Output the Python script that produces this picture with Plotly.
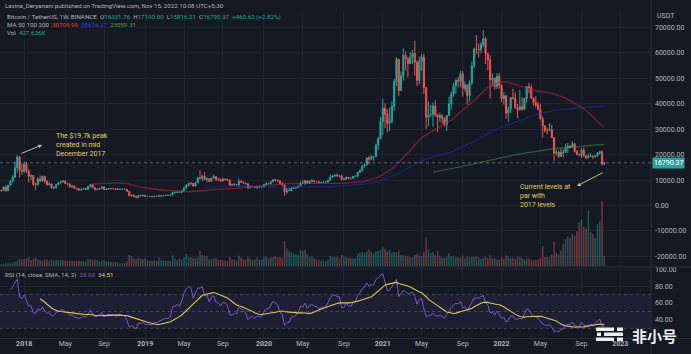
import numpy as np
import pandas as pd
import plotly.graph_objects as go

# ---------------- data (BTC/USDT weekly, Binance) ----------------
first_open = 4261.48
close = [
    # 2017 (from Aug 14)
    4087, 4339, 4580, 4130, 3700, 3600, 4380, 4600, 5700, 6000, 5900, 7300, 5800, 8000, 9700, 11200, 14700, 19100, 13900, 13400,
    # 2018
    16200, 13800, 11500, 11800, 8200, 8100, 10400, 9600, 11500, 9500, 8200, 8500, 6900, 7000, 8300, 8900, 9300, 9650, 8700, 8500,
    7350, 7700, 6750, 6500, 6150, 6400, 6750, 6350, 7400, 8200, 7000, 6300, 6400, 6700, 7300, 6200, 6500, 6700, 6600, 6600,
    6300, 6400, 6400, 6400, 6350, 5600, 3950, 4150, 3600, 3200, 3950, 3850, 4050,
    # 2019
    3500, 3530, 3530, 3410, 3650, 3620, 3740, 3800, 3920, 4000, 3980, 4100, 5050, 5070, 5300, 5150, 5750, 7000, 8100, 8750,
    8700, 7650, 8950, 10850, 10800, 11400, 10200, 10500, 9500, 10800, 11300, 10200, 10100, 9600, 10400, 10300, 10000, 8050, 7950, 8300,
    8200, 9550, 9200, 8800, 8500, 6900, 7400, 7500, 7100, 7500, 7300, 7350,
    # 2020
    8200, 8700, 8600, 9350, 10150, 9900, 9650, 8550, 8050, 5350, 5800, 5900, 6800, 6900, 7100, 7700, 8900, 8700, 9700, 8700,
    9450, 9650, 9350, 9300, 9000, 9050, 9250, 9200, 9950, 11100, 11700, 11900, 11650, 11700, 10250, 10330, 11100, 10750, 10650, 11400,
    11500, 13000, 13800, 15500, 16000, 18700, 18200, 19150, 19200, 23800, 26300, 33000,
    # 2021
    38200, 35800, 32300, 33100, 38900, 48600, 57500, 45200, 51000, 59000, 57600, 55800, 58200, 59800, 56200, 49100, 56600, 58300, 46400, 34700,
    35700, 35800, 39100, 35600, 34700, 35300, 34250, 31800, 35400, 39900, 43800, 47100, 49300, 48800, 51800, 46000, 47300, 43200, 48200, 54900,
    61500, 61300, 61300, 63300, 65500, 59700, 57300, 49400, 50100, 46700, 50800, 47300,
    # 2022
    41900, 43100, 36300, 37900, 42400, 42200, 38400, 37700, 38800, 37800, 42000, 46800, 46400, 42150, 40400, 39450, 37650, 34100, 31300, 29450,
    29450, 29900, 26600, 20550, 21000, 19300, 20850, 20800, 22600, 23300, 22950, 24300, 21150, 20050, 19800, 21800, 19400, 18800, 19300, 19450,
    19200, 19570, 20600, 21150, 16331.76, 16790.37,
]
high = [
    4485, 4453, 4939, 4789, 4400, 4120, 4480, 4620, 5850, 6150, 6180, 7590, 7776, 8100, 9800, 11850, 17200, 19798, 19250, 16500,
    17250, 17150, 14000, 12250, 11800, 9000, 11100, 11800, 11600, 11700, 9900, 9200, 8500, 7500, 8500, 9000, 9759, 9990, 9700, 8880,
    8500, 7800, 7750, 6900, 6800, 6650, 6800, 6800, 7550, 8500, 8200, 7150, 6600, 6800, 7400, 7400, 6600, 6850, 6750, 6700,
    6720, 6800, 6500, 6450, 6600, 6500, 5600, 4400, 4250, 3600, 4200, 4250, 4100,
    4100, 3750, 3650, 3580, 3700, 3720, 4200, 3900, 3950, 4050, 4100, 4150, 5300, 5470, 5350, 5630, 5900, 7300, 8370, 8950,
    9100, 8800, 9300, 11300, 13970, 12200, 13200, 11100, 10700, 11000, 12300, 11450, 10950, 10650, 10900, 10450, 10400, 10050, 8550, 8800,
    8400, 10540, 9950, 9450, 8850, 8500, 7900, 7650, 7650, 7690, 7700, 7500,
    8450, 9190, 8900, 9600, 10200, 10500, 10250, 9700, 9200, 8180, 6900, 6950, 7200, 7460, 7300, 7780, 9480, 10060, 9950, 9850,
    9800, 10400, 9990, 9600, 9760, 9320, 9450, 9300, 10000, 12100, 12000, 12100, 12480, 11800, 12090, 10800, 11180, 11100, 10950, 11480,
    11700, 13350, 14100, 15960, 16500, 18800, 19500, 19900, 19450, 24300, 26900, 34800,
    41950, 40100, 37850, 38550, 40950, 49700, 58350, 57500, 52650, 61780, 60600, 58400, 60200, 61200, 64850, 57000, 58500, 59500, 59600, 46650,
    40900, 39500, 40500, 41300, 36000, 36600, 35950, 34600, 35500, 42600, 44800, 48150, 49400, 50500, 52900, 52900, 48850, 47700, 49250, 56550,
    62000, 67000, 63700, 64300, 69000, 66300, 59800, 59000, 51950, 50200, 51900, 52100,
    47550, 44450, 43500, 38900, 42600, 45850, 44500, 39850, 45400, 42600, 42400, 46900, 48200, 47500, 42400, 42950, 40800, 40050, 35000, 31400,
    30600, 32400, 31700, 26900, 21900, 21550, 22500, 22000, 24300, 24650, 23650, 25200, 24450, 21800, 20500, 22500, 22800, 19950, 20400, 20500,
    19700, 19700, 21000, 21500, 21450, 17190.00,
]
low = [
    3850, 3950, 4250, 4000, 2817, 3500, 3500, 4200, 4580, 5400, 5400, 5900, 5325, 5800, 7900, 9000, 10800, 13000, 10961, 12000,
    12750, 12800, 9035, 10000, 7800, 6000, 8000, 9300, 9400, 8700, 7700, 7900, 6600, 6425, 6600, 7850, 8600, 9050, 8300, 7950,
    7100, 7050, 6600, 6300, 5755, 5800, 6300, 6070, 6300, 7300, 6900, 5880, 6000, 6250, 6650, 6100, 6150, 6200, 6400, 6450,
    6100, 6300, 6360, 6280, 6300, 5300, 3550, 3500, 3300, 3150, 3200, 3550, 3600,
    3450, 3470, 3450, 3350, 3370, 3550, 3600, 3650, 3650, 3800, 3900, 3950, 4100, 4900, 5050, 4950, 5100, 5700, 6600, 7500,
    8000, 7450, 7550, 8950, 10300, 9600, 10100, 9100, 9100, 9400, 10800, 9500, 9750, 9320, 9600, 9880, 9600, 7700, 7800, 7800,
    7900, 7300, 8970, 8650, 8350, 6500, 6850, 7200, 6900, 6430, 7100, 6850,
    7300, 8100, 8250, 8500, 9150, 9700, 9300, 8400, 8000, 3782, 4450, 5700, 5850, 6750, 6500, 6800, 7600, 8600, 8100, 8650,
    8650, 9300, 9150, 9200, 8950, 8900, 9000, 9050, 9120, 9900, 11000, 11150, 11300, 11100, 9820, 9880, 10300, 10200, 10400, 10540,
    11200, 11400, 12900, 13250, 14850, 15800, 16200, 18000, 17600, 19000, 21900, 26000,
    27730, 30400, 28850, 29250, 32300, 37300, 47000, 43000, 44950, 49150, 53100, 50300, 55600, 55500, 51000, 47000, 47500, 52900, 43800, 30000,
    31100, 34700, 31000, 34800, 28800, 32700, 32100, 31100, 29280, 35200, 37700, 42800, 43900, 46400, 46500, 42800, 44700, 39600, 40750, 47400,
    53900, 59500, 58000, 59800, 62300, 55600, 53200, 42000, 46700, 45500, 45700, 45900,
    40600, 39650, 34000, 32900, 36250, 41650, 38000, 34300, 37200, 37150, 37550, 40500, 44200, 41900, 39200, 38550, 37500, 33700, 26700, 28650,
    28000, 29300, 26500, 17600, 19600, 18600, 19000, 18950, 20700, 20700, 22450, 22650, 20800, 19800, 19550, 18550, 19320, 18150, 18450, 19100,
    18200, 18850, 19250, 20050, 15588, 15816.21,
]
volume_k = [
    15, 30, 40, 45, 80, 50, 40, 35, 60, 70, 80, 100, 140, 120, 110, 150, 170, 230, 300, 270,
    300, 330, 380, 260, 300, 370, 280, 260, 230, 270, 280, 230, 250, 230, 260, 240, 270, 260, 230, 200,
    230, 210, 200, 230, 230, 210, 200, 180, 280, 300, 260, 280, 250, 200, 220, 240, 190, 200, 170, 140,
    170, 150, 110, 110, 130, 200, 470, 420, 320, 290, 360, 320, 290,
    330, 250, 210, 220, 240, 220, 350, 250, 250, 230, 220, 210, 450, 330, 250, 320, 270, 390, 520, 400,
    380, 330, 340, 380, 650, 470, 440, 420, 280, 300, 330, 340, 260, 270, 250, 220, 210, 380, 290, 280,
    230, 440, 350, 300, 260, 400, 330, 260, 270, 360, 260, 280,
    400, 410, 320, 370, 390, 420, 370, 390, 340, 1070, 750, 650, 600, 520, 500, 480, 700, 650, 700, 500,
    400, 430, 330, 280, 270, 230, 230, 200, 260, 440, 400, 380, 400, 330, 480, 420, 380, 360, 330, 330,
    330, 520, 560, 600, 560, 620, 700, 600, 540, 620, 640, 700,
    820, 740, 620, 680, 560, 600, 580, 660, 480, 460, 420, 430, 380, 360, 470, 520, 450, 430, 600, 1240,
    700, 560, 600, 460, 650, 430, 350, 340, 400, 560, 430, 430, 400, 350, 370, 450, 330, 420, 370, 400,
    380, 420, 370, 300, 340, 380, 340, 460, 330, 330, 270, 260,
    370, 320, 450, 400, 330, 350, 300, 400, 390, 330, 290, 320, 330, 280, 240, 250, 270, 350, 860, 380,
    390, 360, 480, 1030, 560, 500, 650, 940, 1150, 1250, 1200, 1370, 1300, 1500, 1870, 2000, 1700, 1600, 2370, 1440,
    1370, 1200, 1800, 1940, 2780, 427.626,
]
assert len(close) == len(high) == len(low) == len(volume_k)

time_tick_dates = ["2018-01-01", "2018-05-07", "2018-09-03", "2019-01-07", "2019-05-06", "2019-09-02",
                   "2020-01-06", "2020-05-04", "2020-09-07", "2021-01-04", "2021-05-03", "2021-09-06",
                   "2022-01-03", "2022-05-02", "2022-09-05", "2023-01-02"]
time_tick_text = ["<b>2018</b>", "May", "Sep", "<b>2019</b>", "May", "Sep", "<b>2020</b>", "May", "Sep",
                  "<b>2021</b>", "May", "Sep", "<b>2022</b>", "May", "Sep", "<b>2023</b>"]
price_ticks = [-20000, -10000, 0, 10000, 20000, 30000, 40000, 50000, 60000, 70000]
price_tick_text = ["-20000.00", "-10000.00", "0.00", "10000.00", "20000.00", "30000.00",
                   "40000.00", "50000.00", "60000.00", "70000.00"]
rsi_ticks = [40, 60, 80, 100]
rsi_tick_text = ["40.00", "60.00", "80.00", "100.00"]
last_price = 16790.37

# ---------------- derived series ----------------
dates = pd.date_range("2017-08-14", periods=len(close), freq="W-MON")
opens = [first_open] + close[:-1]
s = pd.Series(close, index=dates, dtype=float)
ma50 = s.rolling(50).mean()
ma100 = s.rolling(100).mean()
ma200 = s.rolling(200).mean()


def rma(x, n):
    v = x.values
    out = np.full(len(v), np.nan)
    out[n] = np.mean(v[1:n + 1])
    for i in range(n + 1, len(v)):
        out[i] = (out[i - 1] * (n - 1) + v[i]) / n
    return pd.Series(out, index=x.index)


d = s.diff()
up = rma(d.clip(lower=0).fillna(0), 14)
dn = rma((-d).clip(lower=0).fillna(0), 14)
rsi = 100 - 100 / (1 + up / dn)
rsi_ma = rsi.rolling(14).mean()

vol_colors = ["rgba(38,166,154,0.5)" if c >= o else "rgba(239,83,80,0.5)" for o, c in zip(opens, close)]

# ---------------- figure ----------------
BG = "#151924"
GRID = "#1d2130"
TXT = "#b2b5be"
FONT = "Roboto"
W, H = 691, 354
ML, MR, MT, MB = 0, 40, 12, 16
PW, PH = W - ML - MR, H - MT - MB


def px(x):
    return (x - ML) / PW


def py(y):
    return (H - MB - y) / PH


fig = go.Figure()
fig.add_trace(go.Bar(x=dates, y=volume_k, marker=dict(color=vol_colors, line=dict(width=0)),
                     width=4.2 * 86400000, xaxis="x", yaxis="y3", hoverinfo="skip"))
fig.add_trace(go.Candlestick(x=dates, open=opens, high=high, low=low, close=close,
                             increasing=dict(line=dict(color="#26a69a", width=1), fillcolor="#26a69a"),
                             decreasing=dict(line=dict(color="#ef5350", width=1), fillcolor="#ef5350"),
                             whiskerwidth=0, xaxis="x", yaxis="y", hoverinfo="skip"))
fig.add_trace(go.Scatter(x=dates, y=ma50, mode="lines", line=dict(color="rgba(185,40,52,0.6)", width=1.3),
                         xaxis="x", yaxis="y", hoverinfo="skip"))
fig.add_trace(go.Scatter(x=dates, y=ma100, mode="lines", line=dict(color="rgba(40,52,190,0.45)", width=1.3),
                         xaxis="x", yaxis="y", hoverinfo="skip"))
fig.add_trace(go.Scatter(x=dates, y=ma200, mode="lines", line=dict(color="rgba(76,150,76,0.55)", width=1.2),
                         xaxis="x", yaxis="y", hoverinfo="skip"))
fig.add_trace(go.Scatter(x=dates, y=rsi, mode="lines", line=dict(color="#7e57c2", width=1),
                         xaxis="x2", yaxis="y2", hoverinfo="skip"))
fig.add_trace(go.Scatter(x=dates, y=rsi_ma, mode="lines", line=dict(color="#d8c85c", width=1.1),
                         xaxis="x2", yaxis="y2", hoverinfo="skip"))

price_top, price_bot = 12, 266
rsi_top, rsi_bot = 268, 338
p_per_px = 10000 / 25.45
zero_px = 205.5
vol_per_px = 42.8

xrange_ = ["2017-10-19", "2023-04-06"]
axis_common = dict(showline=False, zeroline=False, ticks="", fixedrange=True)

fig.update_layout(
    width=W, height=H, margin=dict(l=ML, r=MR, t=MT, b=MB),
    paper_bgcolor=BG, plot_bgcolor=BG, showlegend=False,
    font=dict(family=FONT, color=TXT, size=7),
    xaxis=dict(domain=[0, 1], range=xrange_, anchor="y", tickvals=time_tick_dates, showticklabels=False,
               showgrid=True, gridcolor=GRID, gridwidth=1, rangeslider=dict(visible=False), **axis_common),
    xaxis2=dict(domain=[0, 1], range=xrange_, anchor="y2", matches="x", tickvals=time_tick_dates,
                ticktext=time_tick_text, tickfont=dict(size=7, color=TXT), showgrid=True, gridcolor=GRID,
                **axis_common),
    yaxis=dict(domain=[py(price_bot), py(price_top)],
               range=[(zero_px - price_bot) * p_per_px, (zero_px - price_top) * p_per_px],
               side="right", tickvals=price_ticks, ticktext=price_tick_text, tickfont=dict(size=7, color=TXT),
               showgrid=True, gridcolor=GRID, ticklabelstandoff=3, **axis_common),
    yaxis3=dict(overlaying="y", range=[0, (price_bot - price_top) * vol_per_px], visible=False, fixedrange=True),
    yaxis2=dict(domain=[0, py(rsi_top)], range=[18.6, 101.5], side="right", tickvals=rsi_ticks,
                ticktext=rsi_tick_text, tickfont=dict(size=7, color=TXT), showgrid=True, gridcolor=GRID,
                ticklabelstandoff=3, anchor="x2", **axis_common),
)

shapes = []
# RSI band and levels
shapes.append(dict(type="rect", xref="paper", x0=0, x1=1, yref="y2", y0=30, y1=70,
                   fillcolor="rgba(126,87,194,0.10)", line=dict(width=0), layer="below"))
for lvl in (70, 50, 30):
    shapes.append(dict(type="line", xref="paper", x0=0, x1=1, yref="y2", y0=lvl, y1=lvl,
                       line=dict(color="rgba(120,123,134,0.45)", width=1, dash="3px,3px")))
# last price dotted line
shapes.append(dict(type="line", xref="paper", x0=0, x1=1, yref="y", y0=last_price, y1=last_price,
                   line=dict(color="rgba(178,181,190,0.45)", width=1, dash="dot")))
# pane separators
shapes.append(dict(type="line", xref="paper", x0=0, x1=W / PW, yref="paper", y0=py(267), y1=py(267),
                   line=dict(color="#2a2e39", width=1)))
shapes.append(dict(type="line", xref="paper", x0=1, x1=1, yref="paper", y0=py(H), y1=py(0),
                   line=dict(color="#2a2e39", width=1)))
shapes.append(dict(type="line", xref="paper", x0=0, x1=W / PW, yref="paper", y0=py(338.5), y1=py(338.5),
                   line=dict(color="#2a2e39", width=1)))
# watermark logo
logo = [(596, 614, 327.5, 331), (617, 623, 327.5, 331), (597, 601, 332.5, 336), (604, 623, 332.5, 336),
        (596, 614, 337.5, 341), (617, 623, 337.5, 341)]
for x0, x1, y0, y1 in logo:
    shapes.append(dict(type="rect", xref="paper", yref="paper", x0=px(x0), x1=px(x1), y0=py(y1), y1=py(y0),
                       fillcolor="rgba(255,255,255,0.92)", line=dict(width=0), layer="above"))
fig.update_layout(shapes=shapes)

G = "#26a69a"
ann = []


def text(x, y, t, size=6.3, color=TXT, xanchor="left", **kw):
    ann.append(dict(xref="paper", yref="paper", x=px(x), y=py(y), text=t, showarrow=False,
                    xanchor=xanchor, yanchor="middle", font=dict(size=size, color=color, family=FONT), **kw))


text(3, 5.5, "Lavina_Deryanani published on TradingView.com, Nov 15, 2022 10:08 UTC+5:30", size=6.2)
text(5, 16.5, ("Bitcoin / TetherUS, 1W, BINANCE  O<span style='color:%s'>16331.76</span>  H<span style='color:%s'>17190.00</span>"
               "  L<span style='color:%s'>15816.21</span>  C<span style='color:%s'>16790.37</span>"
               "  <span style='color:%s'>+460.62 (+2.82%%)</span>") % (G, G, G, G, G), size=6.2)
text(5, 25, "MA 50 100 200  <span style='color:#e53935'>30709.99</span>  <span style='color:#2e3fd6'>38614.27</span>"
            "  <span style='color:#43a047'>23059.31</span>", size=6.2)
text(5, 33.5, "Vol  <span style='color:%s'>427.626K</span>" % G, size=6.2)
text(655, 16, "USDT", size=7)
text(3, 275, "RSI (14, close, SMA, 14, 2)  <span style='color:#7e57c2'>33.03</span>  <span style='color:#e8d25b'>34.51</span>",
     size=6.2)

Y = "#e2d35a"
ann.append(dict(xref="paper", yref="paper", x=px(55), y=py(144.5), showarrow=False, xanchor="left",
                yanchor="middle", align="left", text="The $19.7k peak<br>created in mid<br>December 2017",
                font=dict(size=7, color=Y, family=FONT), borderpad=0))
ann.append(dict(xref="paper", yref="paper", x=px(519), y=py(196), showarrow=False, xanchor="left",
                yanchor="middle", align="left", text="Current levels at<br>par with<br>2017 levels",
                font=dict(size=7, color=Y, family=FONT), borderpad=0))

# arrows
ann.append(dict(xref="paper", yref="paper", x=px(42), y=py(145), ax=-22, ay=9, text="", showarrow=True,
                arrowhead=2, arrowsize=0.8, arrowwidth=0.9, arrowcolor="#cfcd9a"))
ann.append(dict(xref="paper", yref="paper", x=px(577), y=py(186), ax=27, ay=-14, text="", showarrow=True,
                arrowhead=2, arrowsize=0.8, arrowwidth=0.9, arrowcolor="#cfcd9a"))

# last price label
ann.append(dict(xref="paper", yref="y", x=1, y=last_price, text="16790.37", showarrow=False, xanchor="left",
                yanchor="middle", bgcolor="#26a69a", borderpad=1, xshift=1,
                font=dict(size=7, color="#ffffff", family=FONT)))
# watermark text
ann.append(dict(xref="paper", yref="paper", x=px(655), y=py(335.5), text="<b>非小号</b>", showarrow=False,
                xanchor="center", yanchor="middle", borderpad=0,
                font=dict(size=15, color="rgba(255,255,255,0.95)", family="Noto Sans CJK SC")))
fig.update_layout(annotations=ann)

fig.write_html("out.html")
